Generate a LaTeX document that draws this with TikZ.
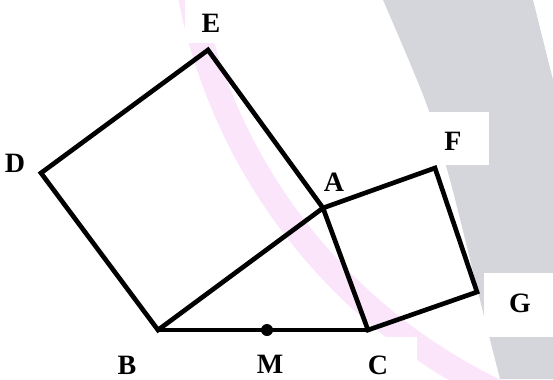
\documentclass[tikz,border=0pt]{standalone}
\usepackage{fontspec}
\setmainfont{Liberation Serif}
\definecolor{graybg}{RGB}{212,214,219}
\definecolor{pinkbg}{RGB}{251,229,250}
\tikzset{
  edge/.style={line width=3.5pt, line join=miter, line cap=round},
  lab/.style={font=\fontsize{21}{23}\selectfont\bfseries, inner sep=0pt},
  whitebox/.style={fill=white, draw=none}
}
\begin{document}
\begin{tikzpicture}[x=0.75pt,y=-0.75pt]
\useasboundingbox (0,0) rectangle (553,379);
\begin{scope}
\clip (0,0) rectangle (553,379);
% gray band
\fill[graybg] plot[smooth] coordinates {(383,0) (425,100) (450,180) (480,300) (500,379)} -- (553,379) -- (553,80) -- (533,0) -- cycle;
% pink arc band
\fill[pinkbg, even odd rule] (737,-111) circle[radius=427pt] (737,-111) circle[radius=408.5pt];
% white boxes behind labels
\fill[whitebox] (185,0) rectangle (245,43);
\fill[whitebox] (424,112) rectangle (489,165);
\fill[whitebox] (484,273) rectangle (553,337);
\fill[whitebox] (330,337) rectangle (417,379);
\end{scope}
% vertices
\coordinate (A) at (323,208);
\coordinate (B) at (158,330);
\coordinate (C) at (368,330);
\coordinate (D) at (41,173);
\coordinate (E) at (208,50);
\coordinate (F) at (435,168);
\coordinate (G) at (477,292);
\coordinate (M) at (267,330);
% squares and triangle
\draw[edge] (B) -- (D) -- (E) -- (A) -- cycle;
\draw[edge] (A) -- (F) -- (G) -- (C) -- cycle;
\draw[edge] (B) -- (C);
\fill (M) circle[radius=4.5pt];
% labels
\node[lab] (lE) at (211,23) {E};
\node[lab] (lD) at (15,163) {D};
\node[lab] (lA) at (334,182) {A};
\node[lab] (lF) at (453,141) {F};
\node[lab] (lG) at (520,303) {G};
\node[lab] (lB) at (127,365) {B};
\node[lab] (lM) at (270,364) {M};
\node[lab] (lC) at (378,365) {C};
\end{tikzpicture}
\end{document}
